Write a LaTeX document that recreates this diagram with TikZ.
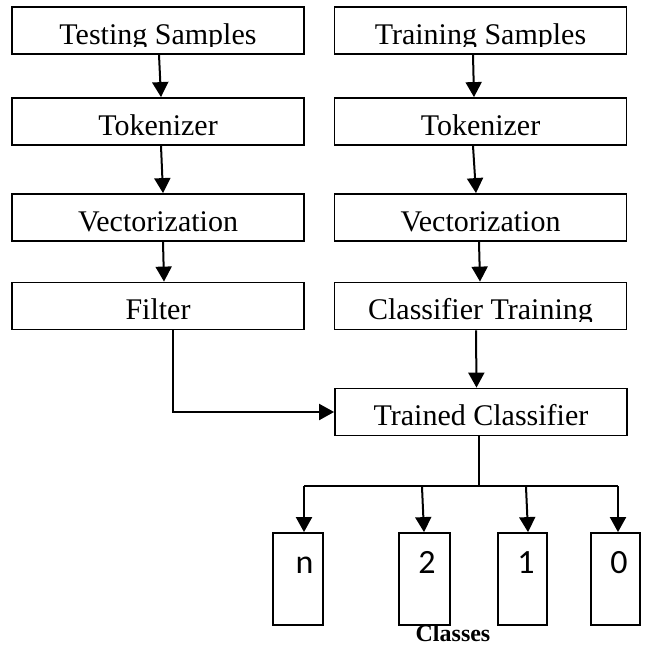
\documentclass[tikz,border=0pt]{standalone}
\usepackage{fontspec}
\setmainfont{Liberation Serif}
\newfontfamily\digitfont{Carlito}
\usetikzlibrary{arrows.meta,calc}
\newcommand{\clippedlabel}[3]{%
  \begin{scope}
    \clip ($(#1.south west)+(0pt,8.5pt)$) rectangle (#1.north east);
    \node[lbl] (#2) at ($(#1.south)+(0pt,10.5pt)$) {#3};
  \end{scope}}
\begin{document}
\begin{tikzpicture}[x=1pt,y=-1pt,
  boxnode/.style={draw=black, line width=1.8pt, inner sep=0pt},
  colbox/.style={boxnode, minimum width=292pt, minimum height=47pt},
  lbl/.style={font=\fontsize{30}{32}\selectfont, inner sep=0pt, anchor=base},
  digit/.style={font=\digitfont\fontsize{34}{36}\selectfont, inner sep=0pt, anchor=base},
  arr/.style={line width=2pt, -{Triangle[length=15pt,width=16pt]}},
  conn/.style={line width=1.6pt}]
\useasboundingbox (0,0) rectangle (645,645);

% column boxes
\node[colbox] (ts)  at (158,30.5) {};
\node[colbox] (trs) at (480.5,30.5) {};
\node[colbox] (tk1) at (158,121.5) {};
\node[colbox] (tk2) at (480.5,121.5) {};
\node[colbox] (vc1) at (158,217.5) {};
\node[colbox] (vc2) at (480.5,217.5) {};
\node[colbox] (flt) at (158,306) {};
\node[colbox] (ctr) at (480.5,306) {};
\node[colbox] (tc)  at (481,412) {};

\clippedlabel{ts}{tsl}{Testing Samples}
\clippedlabel{trs}{trsl}{Training Samples}
\clippedlabel{tk1}{tk1l}{Tokenizer}
\clippedlabel{tk2}{tk2l}{Tokenizer}
\clippedlabel{vc1}{vc1l}{Vectorization}
\clippedlabel{vc2}{vc2l}{Vectorization}
\clippedlabel{flt}{fltl}{Filter}
\clippedlabel{ctr}{ctrl}{Classifier Training}
\clippedlabel{tc}{tcl}{Trained Classifier}

% class boxes
\node[boxnode, minimum width=50pt, minimum height=92pt] (cn) at (298,579) {};
\node[boxnode, minimum width=51pt, minimum height=92pt] (c2) at (424.5,579) {};
\node[boxnode, minimum width=49pt, minimum height=92pt] (c1) at (522.5,579) {};
\node[boxnode, minimum width=49pt, minimum height=92pt] (c0) at (615.5,579) {};
\node[digit] (dn) at (304.5,573) {n};
\node[digit] (d2) at (427,573) {2};
\node[digit] (d1) at (526,573) {1};
\node[digit] (d0) at (619,573) {0};
\node[font=\bfseries\fontsize{24}{26}\selectfont, anchor=base, inner sep=0pt] (cls) at (453,641) {Classes};

% arrows left column
\draw[arr] ([xshift=1pt]ts.south) -- ([xshift=3pt]tk1.north);
\draw[arr] ([xshift=3pt]tk1.south) -- ([xshift=5pt]vc1.north);
\draw[arr] ([xshift=5pt]vc1.south) -- ([xshift=6pt]flt.north);
% arrows right column
\draw[arr] ([xshift=-7.5pt]trs.south) -- ([xshift=-6.5pt]tk2.north);
\draw[arr] ([xshift=-7.5pt]tk2.south) -- ([xshift=-4.5pt]vc2.north);
\draw[arr] ([xshift=-1.5pt]vc2.south) -- ([xshift=-0.5pt]ctr.north);
\draw[arr] ([xshift=-4.5pt]ctr.south) -- ([xshift=-4.5pt]tc.north);
% filter to trained classifier
\draw[arr] ([xshift=15pt]flt.south) |- (tc.west);

% branches
\coordinate (bc) at (479,486);
\coordinate (bn) at (304,486);
\coordinate (b0) at (618,486);
\coordinate (b2) at (422,487);
\coordinate (b1) at (526,487);
\draw[conn] (tc.south -| bc) -- (bc);
\draw[conn] (bn) -- (b0);
\draw[arr] (bn) -- ([xshift=6pt]cn.north);
\draw[arr] (b2) -- ([xshift=-0.5pt]c2.north);
\draw[arr] (b1) -- ([xshift=5.5pt]c1.north);
\draw[arr] (b0) -- ([xshift=2.5pt]c0.north);
\end{tikzpicture}
\end{document}
